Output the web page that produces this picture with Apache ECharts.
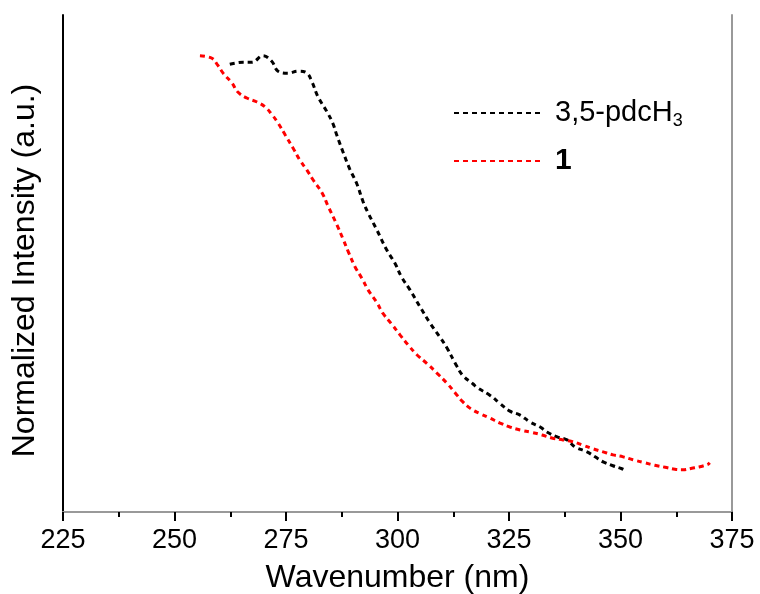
<!DOCTYPE html>
<html>
<head>
<meta charset="utf-8">
<script src="https://cdn.jsdelivr.net/npm/echarts@6/dist/echarts.min.js"></script>
<style>
  html, body { margin: 0; padding: 0; background: #fff; }
  #chart { width: 760px; height: 594px; }
</style>
</head>
<body>
<div id="chart"></div>
<script>
// wavelength (nm) and normalized intensity
let pdcX = [262.4, 265.4, 267.4, 269.8, 271.8, 273.2, 275.5, 277.7, 279.7, 280.8, 282.2, 284.2, 285.5, 286.4, 287.8,
  289.3, 290.9, 292.3, 293.4, 295.4, 297.6, 299.4, 300.9, 302.8, 305.1, 307.3, 309.5, 311.1, 312.9, 314.7,
  316.9, 317.9, 320.7, 322.9, 325.2, 327.5, 329.7, 332.0, 333.5, 335.8, 338.0, 339.8, 342.5, 344.3, 346.1,
  348.3, 350.3, 350.8];
let pdcY = [0.901, 0.905, 0.905, 0.918, 0.907, 0.887, 0.883, 0.887, 0.883, 0.866, 0.835, 0.805, 0.782, 0.758, 0.724,
  0.690, 0.660, 0.624, 0.602, 0.567, 0.527, 0.501, 0.473, 0.447, 0.412, 0.380, 0.352, 0.330, 0.300, 0.274,
  0.258, 0.250, 0.235, 0.219, 0.203, 0.195, 0.181, 0.171, 0.161, 0.151, 0.145, 0.131, 0.121, 0.111, 0.101,
  0.093, 0.087, 0.085];

let oneX = [255.7, 258.4, 259.7, 260.9, 262.9, 264.2, 266.2, 268.5, 270.3, 271.9, 273.2, 274.8, 276.6, 278.1, 279.7,
  281.1, 283.1, 284.4, 286.4, 287.8, 289.0, 290.5, 292.1, 293.4, 295.4, 296.7, 298.7, 300.6, 302.4, 304.4,
  306.7, 308.9, 311.1, 312.9, 314.5, 316.4, 318.5, 320.7, 323.0, 325.2, 327.5, 330.2, 332.4, 334.6, 337.1,
  339.1, 341.4, 343.9, 346.1, 348.3, 350.6, 352.8, 355.5, 357.7, 360.0, 362.2, 364.0, 366.0, 367.8, 369.6, 370.0];
let oneY = [0.918, 0.913, 0.899, 0.883, 0.863, 0.845, 0.833, 0.825, 0.815, 0.799, 0.783, 0.759, 0.732, 0.708, 0.688,
  0.668, 0.642, 0.616, 0.578, 0.549, 0.523, 0.493, 0.469, 0.447, 0.421, 0.400, 0.378, 0.356, 0.336, 0.316,
  0.298, 0.279, 0.259, 0.240, 0.223, 0.208, 0.198, 0.189, 0.179, 0.171, 0.165, 0.160, 0.155, 0.149, 0.145,
  0.142, 0.135, 0.127, 0.121, 0.115, 0.111, 0.105, 0.099, 0.094, 0.090, 0.086, 0.085, 0.088, 0.091, 0.096, 0.099];

let xTicks = [225, 250, 275, 300, 325, 350, 375];

function pairs(xs, ys) {
  return xs.map((x, i) => [x, ys[i]]);
}

let font = '"Liberation Sans", Arial, sans-serif';
let myChart = echarts.init(document.getElementById('chart'));

let option = {
  animation: false,
  backgroundColor: '#fff',
  grid: { left: 63, right: 28, top: 15, bottom: 82, outerBoundsMode: 'none' },
  legend: {
    orient: 'vertical',
    left: 448,
    top: 91,
    itemWidth: 90,
    itemHeight: 14,
    itemGap: 16,
    lineStyle: { width: 2 },
    itemStyle: { opacity: 0 },
    data: ['3,5-pdcH3', '1'],
    formatter: function (name) {
      return name === '1' ? '{b|1}' : '{n|3,5-pdcH}{s|3}';
    },
    textStyle: {
      fontFamily: font,
      rich: {
        n: { fontSize: 29, fontFamily: font, color: '#000', lineHeight: 32, padding: [0, 0, 0, 6] },
        s: { fontSize: 18, fontFamily: font, color: '#000', lineHeight: 32, padding: [16, 0, 0, 0] },
        b: { fontSize: 30, fontFamily: font, fontWeight: 'bold', color: '#000', lineHeight: 32, padding: [0, 0, 0, 6] }
      }
    }
  },
  xAxis: [
    {
      type: 'value',
      min: xTicks[0],
      max: xTicks[xTicks.length - 1],
      interval: 25,
      name: 'Wavenumber (nm)',
      nameLocation: 'middle',
      nameGap: 50,
      nameTextStyle: { fontFamily: font, fontSize: 32, color: '#000' },
      axisLine: { lineStyle: { color: '#000', width: 2 } },
      axisTick: { inside: false, length: 9, lineStyle: { color: '#000', width: 2 } },
      minorTick: { show: true, splitNumber: 2, length: 5, lineStyle: { color: '#000', width: 2 } },
      axisLabel: { fontFamily: font, fontSize: 27, color: '#000', margin: 15 },
      splitLine: { show: false }
    },
    {
      type: 'value',
      position: 'top',
      min: xTicks[0],
      max: xTicks[xTicks.length - 1],
      axisLine: { lineStyle: { color: '#999', width: 2 } },
      axisTick: { show: false },
      axisLabel: { show: false },
      splitLine: { show: false }
    }
  ],
  yAxis: [
    {
      type: 'value',
      min: 0,
      max: 1,
      name: 'Normalized Intensity (a.u.)',
      nameLocation: 'middle',
      nameGap: 22,
      nameTextStyle: { fontFamily: font, fontSize: 32, color: '#000', padding: [0, 14, 0, 0] },
      axisLine: { show: true, lineStyle: { color: '#000', width: 2 } },
      axisTick: { show: false },
      axisLabel: { show: false },
      splitLine: { show: false }
    },
    {
      type: 'value',
      position: 'right',
      min: 0,
      max: 1,
      axisLine: { show: true, lineStyle: { color: '#999', width: 2 } },
      axisTick: { show: false },
      axisLabel: { show: false },
      splitLine: { show: false }
    }
  ],
  series: [
    {
      name: '3,5-pdcH3',
      type: 'line',
      symbol: 'none',
      smooth: 0.4,
      data: pairs(pdcX, pdcY),
      lineStyle: { color: '#000', width: 3, type: [5, 4] },
      itemStyle: { color: '#000' }
    },
    {
      name: '1',
      type: 'line',
      symbol: 'none',
      smooth: 0.4,
      data: pairs(oneX, oneY),
      lineStyle: { color: '#ff0000', width: 3, type: [5, 4] },
      itemStyle: { color: '#ff0000' }
    }
  ]
};

myChart.setOption(option);
</script>
</body>
</html>
